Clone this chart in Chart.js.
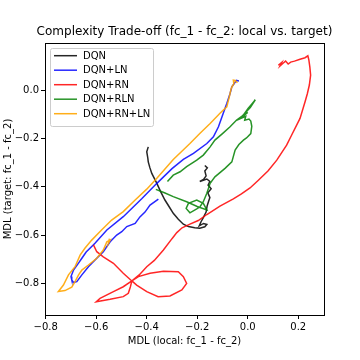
<!DOCTYPE html>
<html><head><meta charset="utf-8">
<script src="https://cdn.jsdelivr.net/npm/chart.js@4"></script>
<style>html,body{margin:0;padding:0;background:#fff}#c{display:block}</style>
</head><body>
<div style="width:360px;height:360px"><canvas id="c" width="360" height="360"></canvas></div>
<script>
const chartTitle = "Complexity Trade-off (fc_1 - fc_2: local vs. target)";
const xTitle = "MDL (local: fc_1 - fc_2)";
const yTitle = "MDL (target: fc_1 - fc_2)";
const seriesNames = ["DQN", "DQN+LN", "DQN+RN", "DQN+RLN", "DQN+RN+LN"];
const xTicks = [-0.8, -0.6, -0.4, -0.2, 0.0, 0.2];
const yTicks = [-0.8, -0.6, -0.4, -0.2, 0.0];

const dqn = [[-0.394,-0.235],[-0.400,-0.255],[-0.396,-0.28],[-0.394,-0.297],[-0.388,-0.32],[-0.380,-0.345],[-0.360,-0.386],[-0.345,-0.42],[-0.328,-0.455],[-0.310,-0.485],[-0.295,-0.510],[-0.275,-0.535],[-0.255,-0.555],[-0.235,-0.565],[-0.210,-0.570],[-0.190,-0.572],[-0.170,-0.566],[-0.162,-0.556],[-0.175,-0.552],[-0.192,-0.562],[-0.185,-0.545],[-0.177,-0.530],[-0.165,-0.505],[-0.161,-0.480],[-0.155,-0.460],[-0.150,-0.445],[-0.158,-0.425],[-0.145,-0.408],[-0.157,-0.393],[-0.150,-0.378],[-0.162,-0.368],[-0.190,-0.378],[-0.175,-0.370],[-0.165,-0.355],[-0.170,-0.335],[-0.160,-0.322],[-0.170,-0.312]];

const dqnLn = [[-0.035,0.038],[-0.045,0.040],[-0.055,0.025],[-0.063,0.014],[-0.070,-0.014],[-0.083,-0.055],[-0.097,-0.096],[-0.116,-0.152],[-0.136,-0.193],[-0.162,-0.221],[-0.215,-0.262],[-0.255,-0.287],[-0.300,-0.325],[-0.360,-0.386],[-0.420,-0.450],[-0.493,-0.524],[-0.558,-0.579],[-0.605,-0.634],[-0.640,-0.670],[-0.657,-0.696],[-0.671,-0.717],[-0.690,-0.745],[-0.700,-0.772],[-0.697,-0.786],[-0.690,-0.796],[-0.677,-0.793],[-0.657,-0.765],[-0.631,-0.731],[-0.598,-0.696],[-0.572,-0.669],[-0.545,-0.628],[-0.519,-0.600],[-0.499,-0.586],[-0.479,-0.565],[-0.446,-0.552],[-0.427,-0.525],[-0.407,-0.505],[-0.387,-0.476],[-0.354,-0.451]];

const dqnRn = [[0.121,0.103],[0.135,0.115],[0.128,0.100],[0.141,0.112],[0.150,0.120],[0.160,0.108],[0.170,0.116],[0.185,0.120],[0.207,0.128],[0.227,0.134],[0.238,0.142],[0.242,0.125],[0.246,0.095],[0.249,0.062],[0.244,0.021],[0.236,-0.015],[0.227,-0.048],[0.207,-0.117],[0.174,-0.186],[0.154,-0.228],[0.115,-0.290],[0.080,-0.335],[0.040,-0.375],[0.009,-0.405],[-0.025,-0.430],[-0.057,-0.450],[-0.110,-0.480],[-0.162,-0.515],[-0.196,-0.540],[-0.229,-0.555],[-0.260,-0.570],[-0.281,-0.590],[-0.300,-0.615],[-0.334,-0.662],[-0.370,-0.705],[-0.400,-0.731],[-0.430,-0.765],[-0.459,-0.790],[-0.465,-0.815],[-0.473,-0.841],[-0.493,-0.855],[-0.545,-0.866],[-0.600,-0.876],[-0.585,-0.862],[-0.532,-0.834],[-0.493,-0.814],[-0.459,-0.790],[-0.433,-0.772],[-0.387,-0.758],[-0.334,-0.750],[-0.275,-0.752],[-0.255,-0.772],[-0.242,-0.800],[-0.261,-0.827],[-0.308,-0.852],[-0.355,-0.855],[-0.400,-0.834],[-0.440,-0.807],[-0.459,-0.790],[-0.493,-0.758],[-0.532,-0.717],[-0.572,-0.690],[-0.598,-0.669],[-0.611,-0.641]];

const dqnRln = [[-0.318,-0.378],[-0.295,-0.352],[-0.268,-0.338],[-0.242,-0.317],[-0.202,-0.290],[-0.176,-0.269],[-0.149,-0.235],[-0.130,-0.207],[-0.100,-0.180],[-0.070,-0.152],[-0.044,-0.124],[-0.017,-0.103],[0.002,-0.075],[0.018,-0.055],[0.030,-0.040],[0.010,-0.072],[-0.020,-0.105],[0.000,-0.092],[-0.030,-0.118],[-0.008,-0.108],[-0.012,-0.125],[0.005,-0.120],[0.012,-0.128],[0.016,-0.150],[0.012,-0.180],[-0.005,-0.198],[-0.017,-0.207],[-0.035,-0.225],[-0.050,-0.248],[-0.063,-0.297],[-0.090,-0.324],[-0.130,-0.359],[-0.149,-0.386],[-0.162,-0.427],[-0.176,-0.462],[-0.189,-0.483],[-0.202,-0.492],[-0.229,-0.508],[-0.244,-0.490],[-0.235,-0.469],[-0.202,-0.455],[-0.176,-0.469],[-0.162,-0.496],[-0.200,-0.482],[-0.242,-0.462],[-0.295,-0.441],[-0.330,-0.425],[-0.364,-0.411]];

const dqnRnLn = [[-0.041,0.030],[-0.050,0.040],[-0.057,0.041],[-0.055,0.025],[-0.062,0.015],[-0.066,0.005],[-0.073,-0.028],[-0.083,-0.069],[-0.110,-0.096],[-0.149,-0.138],[-0.190,-0.180],[-0.229,-0.221],[-0.295,-0.287],[-0.360,-0.365],[-0.400,-0.410],[-0.446,-0.455],[-0.493,-0.503],[-0.539,-0.538],[-0.580,-0.580],[-0.618,-0.621],[-0.645,-0.655],[-0.664,-0.683],[-0.684,-0.731],[-0.710,-0.765],[-0.730,-0.807],[-0.750,-0.834],[-0.724,-0.830],[-0.697,-0.816],[-0.684,-0.793],[-0.670,-0.765],[-0.657,-0.745],[-0.631,-0.724],[-0.598,-0.696],[-0.572,-0.662],[-0.558,-0.628],[-0.545,-0.621],[-0.552,-0.635],[-0.548,-0.615]];

const seriesData = [dqn, dqnLn, dqnRn, dqnRln, dqnRnLn];
const colors = ["rgba(0,0,0,0.85)", "rgba(0,0,255,0.85)", "rgba(255,0,0,0.85)", "rgba(0,128,0,0.85)", "rgba(255,165,0,0.9)"];
const FONT = "'DejaVu Sans', sans-serif";
const fmt = v => (v < 0 ? "\u2212" : "") + Math.abs(v).toFixed(1);

const decor = {
  id: 'decor',
  afterDraw(chart) {
    const ctx = chart.ctx, a = chart.chartArea;
    ctx.save();
    ctx.strokeStyle = '#000'; ctx.lineWidth = 1;
    ctx.strokeRect(Math.round(a.left) + 0.5, Math.round(a.top) + 0.5, Math.round(a.right - a.left), Math.round(a.bottom - a.top));
    ctx.fillStyle = '#000';
    ctx.textAlign = 'center'; ctx.textBaseline = 'middle';
    ctx.font = "12px " + FONT;
    ctx.fillText(chartTitle, (a.left + a.right) / 2, 32);
    ctx.font = "10px " + FONT;
    ctx.fillText(xTitle, (a.left + a.right) / 2, 341);
    ctx.translate(8, (a.top + a.bottom) / 2);
    ctx.rotate(-Math.PI / 2);
    ctx.fillText(yTitle, 0, 0);
    ctx.restore();
    // legend
    ctx.save();
    const lx = 50, ly = 48, lw = 103, lh = 78;
    ctx.fillStyle = 'rgba(255,255,255,0.8)';
    ctx.strokeStyle = '#cccccc'; ctx.lineWidth = 1;
    ctx.beginPath();
    ctx.roundRect(lx + 0.5, ly + 0.5, lw, lh, 2);
    ctx.fill(); ctx.stroke();
    ctx.font = "10px " + FONT; ctx.textAlign = 'left'; ctx.textBaseline = 'middle';
    seriesNames.forEach((n, i) => {
      const y = 55.7 + i * 14.5;
      ctx.strokeStyle = colors[i]; ctx.lineWidth = 1.5;
      ctx.beginPath(); ctx.moveTo(54, y); ctx.lineTo(77, y); ctx.stroke();
      ctx.fillStyle = '#000';
      ctx.fillText(n, 83, y + 0.5);
    });
    ctx.restore();
  }
};

new Chart(document.getElementById('c'), {
  type: 'scatter',
  data: {
    datasets: seriesNames.map((n, i) => ({
      label: n,
      data: seriesData[i].map(p => ({x: p[0], y: p[1]})),
      showLine: true,
      borderColor: colors[i],
      backgroundColor: colors[i],
      borderWidth: 1.5,
      pointRadius: 0,
      tension: 0,
      order: seriesNames.length - i
    }))
  },
  options: {
    responsive: false,
    animation: false,
    devicePixelRatio: 1,
    layout: {padding: {left: 0, right: 36, top: 43, bottom: 0}},
    plugins: {legend: {display: false}, title: {display: false}, tooltip: {enabled: false}},
    scales: {
      x: {
        type: 'linear', min: -0.803, max: 0.302,
        afterFit: s => { s.height = 45; },
        afterBuildTicks: s => { s.ticks = xTicks.map(v => ({value: v})); },
        grid: {drawOnChartArea: false, drawTicks: true, tickLength: 4, color: '#000', tickColor: '#000'},
        border: {display: false},
        ticks: {color: '#000', font: {family: FONT, size: 10}, padding: 2, maxRotation: 0, callback: v => fmt(v)}
      },
      y: {
        type: 'linear', min: -0.931, max: 0.195,
        afterFit: s => { s.width = 45; },
        afterBuildTicks: s => { s.ticks = yTicks.map(v => ({value: v})); },
        grid: {drawOnChartArea: false, drawTicks: true, tickLength: 4, color: '#000', tickColor: '#000'},
        border: {display: false},
        ticks: {color: '#000', font: {family: FONT, size: 10}, padding: 2, callback: v => fmt(v)}
      }
    }
  },
  plugins: [decor]
});
</script>
</body></html>
